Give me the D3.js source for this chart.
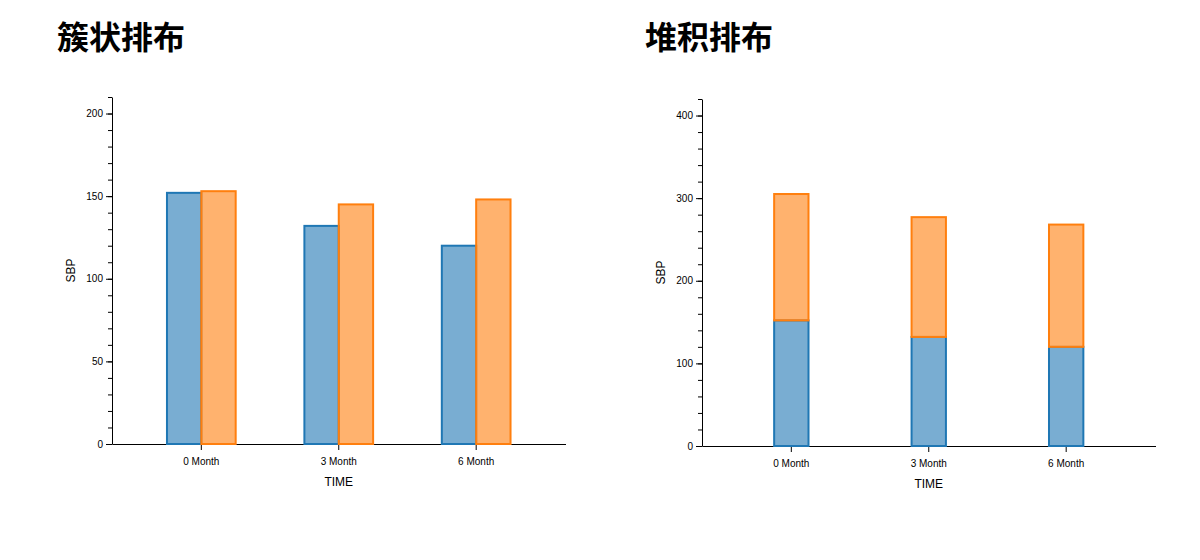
<!DOCTYPE html>
<html>
<head>
<meta charset="utf-8">
<script src="https://cdn.jsdelivr.net/npm/d3@7/dist/d3.min.js"></script>
<style>
  html, body { margin: 0; padding: 0; background: #fff; }
  svg { display: block; }
  .tick text { font-family: "Liberation Sans", Arial, sans-serif; font-size: 10px; fill: #000; }
  .lbl { font-family: "Liberation Sans", Arial, sans-serif; font-size: 12px; fill: #000; }
  .title { font-family: "Noto Sans CJK SC", sans-serif; font-size: 32px; font-weight: bold; fill: #000; }
</style>
</head>
<body>
<svg id="chart" width="1200" height="560"></svg>
<script>
// ---- data ----
const categories = ["0 Month", "3 Month", "6 Month"];
const seriesNames = ["A", "B"];
const seriesA = [152, 132, 120];
const seriesB = [153, 145, 148];
const titles = ["簇状排布", "堆积排布"];
const yLabel = "SBP";
const xLabel = "TIME";
const clusterMajorTicks = [0, 50, 100, 150, 200];
const clusterMinorTicks = [0, 10, 20, 30, 40, 50, 60, 70, 80, 90, 100, 110, 120, 130, 140, 150, 160, 170, 180, 190, 200, 210];
const clusterMax = 210;
const stackMajorTicks = [0, 100, 200, 300, 400];
const stackMinorTicks = [0, 20, 40, 60, 80, 100, 120, 140, 160, 180, 200, 220, 240, 260, 280, 300, 320, 340, 360, 380, 400, 420];
const stackMax = 420;
const colors = ["#1f77b4", "#ff7f0e"];

const svg = d3.select("#chart");
const W = 453.5, H = 347;

function drawAxes(g, x, y, major, minor) {
  g.append("g")
    .attr("transform", `translate(0,${H})`)
    .call(d3.axisBottom(x).tickSizeOuter(0).tickPadding(8));
  g.append("g")
    .call(d3.axisLeft(y).tickValues(minor).tickSize(4).tickFormat(""))
    .call(a => a.select(".domain").remove());
  g.append("g")
    .call(d3.axisLeft(y).tickValues(major).tickSizeOuter(0));
}

function labels(g) {
  g.append("text").attr("class", "lbl")
    .attr("text-anchor", "middle")
    .attr("transform", `translate(-37.5,${H / 2}) rotate(-90)`)
    .text(yLabel);
  g.append("text").attr("class", "lbl")
    .attr("text-anchor", "middle")
    .attr("x", W / 2).attr("y", H + 42)
    .text(xLabel);
}

// ---- clustered chart ----
svg.append("text").attr("class", "title").attr("x", 57).attr("y", 49).text(titles[0]);
const g1 = svg.append("g").attr("transform", "translate(112,97)");
const x0 = d3.scaleBand().domain(categories).range([0, W]).paddingInner(0.5).paddingOuter(0.4);
const x1 = d3.scaleBand().domain(seriesNames).range([0, x0.bandwidth()]);
const y1 = d3.scaleLinear().domain([0, clusterMax]).range([H, 0]);
drawAxes(g1, x0, y1, clusterMajorTicks, clusterMinorTicks);
const clusterData = [seriesA, seriesB];
clusterData.forEach((vals, si) => {
  g1.append("g").selectAll("rect").data(vals).join("rect")
    .attr("x", (d, i) => x0(categories[i]) + x1(seriesNames[si]))
    .attr("width", x1.bandwidth())
    .attr("y", d => y1(d))
    .attr("height", d => H - y1(d))
    .attr("fill", colors[si]).attr("fill-opacity", 0.6)
    .attr("stroke", colors[si]).attr("stroke-width", 2);
});
labels(g1);

// ---- stacked chart ----
svg.append("text").attr("class", "title").attr("x", 645).attr("y", 49).text(titles[1]);
const g2 = svg.append("g").attr("transform", "translate(702,99)");
const xs = d3.scaleBand().domain(categories).range([0, W]).paddingInner(0.5).paddingOuter(0.4);
const ys = d3.scaleLinear().domain([0, stackMax]).range([H, 0]);
drawAxes(g2, xs, ys, stackMajorTicks, stackMinorTicks);
const rows = categories.map((c, i) => ({ cat: c, A: seriesA[i], B: seriesB[i] }));
const stacked = d3.stack().keys(seriesNames)(rows);
const bw = xs.bandwidth() / 2;
stacked.forEach((layer, si) => {
  g2.append("g").selectAll("rect").data(layer).join("rect")
    .attr("x", d => xs(d.data.cat) + (xs.bandwidth() - bw) / 2)
    .attr("width", bw)
    .attr("y", d => ys(d[1]))
    .attr("height", d => ys(d[0]) - ys(d[1]))
    .attr("fill", colors[si]).attr("fill-opacity", 0.6)
    .attr("stroke", colors[si]).attr("stroke-width", 2);
});
labels(g2);
</script>
</body>
</html>
